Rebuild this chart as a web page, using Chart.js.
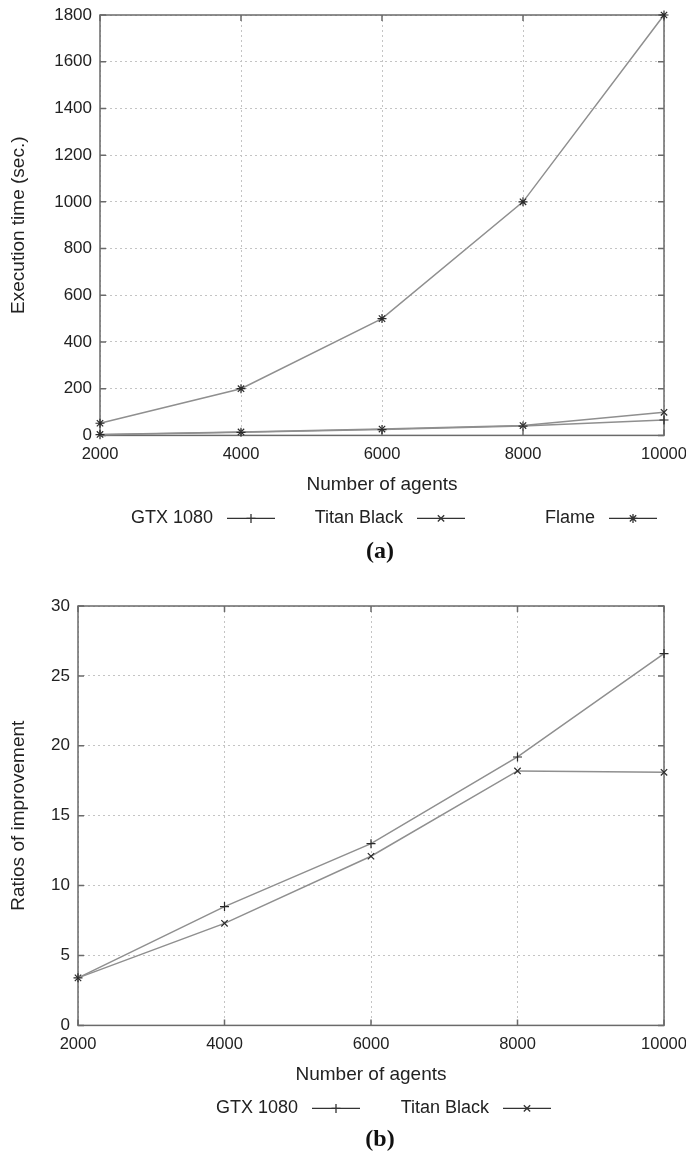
<!DOCTYPE html>
<html>
<head>
<meta charset="utf-8">
<script src="https://cdn.jsdelivr.net/npm/chart.js@4.4.1/dist/chart.umd.min.js"></script>
<style>
  body { margin: 0; background: #fff; width: 686px; height: 1152px; position: relative; overflow: hidden; }
  .box { position: absolute; left: 0; width: 686px; }
  .cap { position: absolute; left: 300px; width: 160px; text-align: center;
         font-family: "Liberation Serif", "DejaVu Serif", serif; font-weight: bold;
         font-size: 24px; line-height: 28px; color: #111; }
</style>
</head>
<body>
<div class="box" style="top:0;height:540px"><canvas id="chartA"></canvas></div>
<div class="cap" style="top:536px">(a)</div>
<div class="box" style="top:580px;height:550px"><canvas id="chartB"></canvas></div>
<div class="cap" style="top:1124px">(b)</div>

<script>
// ================= DADOS =================
const agents = [2000, 4000, 6000, 8000, 10000];

// (a) execution time (sec.)
const timeGtx = [3, 13, 25, 40, 66];
const timeTitan = [4, 15, 27, 42, 99];
const timeFlame = [52, 200, 500, 1000, 1800];

// (b) ratios of improvement
const ratioGtx = [3.4, 8.5, 13.0, 19.2, 26.6];
const ratioTitan = [3.4, 7.3, 12.1, 18.2, 18.1];

const labelGtx = "GTX 1080";
const labelTitan = "Titan Black";
const labelFlame = "Flame";

// ================= ESTILO =================
const FONT = "'Liberation Sans', Arial, sans-serif";
const LINE = "#8f8f8f";
const MARK = "#2a2a2a";
const GRID = "#c4c4c4";
const FRAME = "#6a6a6a";

function points(values) {
  return agents.map((x, i) => ({ x: x, y: values[i] }));
}

function dataset(label, values, style) {
  return {
    label: label,
    data: points(values),
    borderColor: LINE,
    borderWidth: 1.5,
    pointStyle: style,
    pointRadius: 4.5,
    pointBorderColor: MARK,
    pointBackgroundColor: MARK,
    pointBorderWidth: 1.2,
    tension: 0,
    clip: false
  };
}

// caixa do gráfico + marcas de escala para dentro (estilo gnuplot)
const framePlugin = {
  id: "frame",
  beforeDatasetsDraw(chart) {
    const ctx = chart.ctx;
    const a = chart.chartArea;
    const xs = chart.scales.x;
    const ys = chart.scales.y;
    const t = 6;
    ctx.save();
    ctx.strokeStyle = FRAME;
    ctx.lineWidth = 1.5;
    ctx.strokeRect(a.left, a.top, a.right - a.left, a.bottom - a.top);
    ctx.beginPath();
    xs.ticks.forEach(tk => {
      const px = xs.getPixelForValue(tk.value);
      ctx.moveTo(px, a.bottom); ctx.lineTo(px, a.bottom - t);
      ctx.moveTo(px, a.top); ctx.lineTo(px, a.top + t);
    });
    ys.ticks.forEach(tk => {
      const py = ys.getPixelForValue(tk.value);
      ctx.moveTo(a.left, py); ctx.lineTo(a.left + t, py);
      ctx.moveTo(a.right, py); ctx.lineTo(a.right - t, py);
    });
    ctx.stroke();
    ctx.restore();
  }
};

// legenda: texto à esquerda, amostra de linha com marcador à direita
const keyPlugin = {
  id: "key",
  afterDraw(chart, args, opts) {
    const ctx = chart.ctx;
    const y = chart.chartArea.bottom + opts.offset;
    ctx.save();
    ctx.font = "18px " + FONT;
    ctx.fillStyle = "#222";
    ctx.textAlign = "right";
    ctx.textBaseline = "middle";
    chart.data.datasets.forEach((ds, i) => {
      const x0 = opts.starts[i];
      ctx.fillText(ds.label, x0 - 14, y);
      ctx.strokeStyle = "#333";
      ctx.lineWidth = 1.3;
      ctx.beginPath();
      ctx.moveTo(x0, y);
      ctx.lineTo(x0 + 48, y);
      ctx.stroke();
      Chart.helpers.drawPoint(ctx, {
        pointStyle: ds.pointStyle, radius: 4.5, rotation: 0, borderWidth: 1.2
      }, x0 + 24, y);
    });
    ctx.restore();
  }
};

function makeChart(id, sets, yMax, yStep, yTitle, leftWidth, padTop, starts) {
  return new Chart(document.getElementById(id), {
    type: "line",
    data: { datasets: sets },
    plugins: [framePlugin, keyPlugin],
    options: {
      responsive: true,
      maintainAspectRatio: false,
      animation: false,
      layout: { padding: { top: padTop, right: 22, left: 0, bottom: 44 } },
      plugins: {
        legend: { display: false },
        tooltip: { enabled: false },
        key: { offset: 83, starts: starts }
      },
      scales: {
        x: {
          type: "linear",
          min: 2000,
          max: 10000,
          ticks: {
            stepSize: 2000,
            padding: 9,
            color: "#222",
            font: { family: FONT, size: 16.5 },
            callback: v => String(v)
          },
          grid: { color: GRID, drawTicks: false },
          border: { display: false, dash: [2, 3] },
          title: {
            display: true,
            text: "Number of agents",
            color: "#222",
            font: { family: FONT, size: 19 },
            padding: 0
          },
          afterFit(s) { s.paddingLeft = 0; s.paddingRight = 0; }
        },
        y: {
          min: 0,
          max: yMax,
          ticks: {
            stepSize: yStep,
            padding: 8,
            color: "#222",
            font: { family: FONT, size: 17 },
            callback: v => String(v)
          },
          grid: { color: GRID, drawTicks: false },
          border: { display: false, dash: [2, 3] },
          title: {
            display: true,
            text: yTitle,
            color: "#222",
            font: { family: FONT, size: 19 },
            padding: { top: 7, bottom: 0 }
          },
          afterFit(s) { s.width = leftWidth; s.paddingTop = 0; s.paddingBottom = 0; }
        }
      }
    }
  });
}

makeChart("chartA", [
  dataset(labelGtx, timeGtx, "cross"),
  dataset(labelTitan, timeTitan, "crossRot"),
  dataset(labelFlame, timeFlame, "star")
], 1800, 200, "Execution time (sec.)", 100, 15, [227, 417, 609]);

makeChart("chartB", [
  dataset(labelGtx, ratioGtx, "cross"),
  dataset(labelTitan, ratioTitan, "crossRot")
], 30, 5, "Ratios of improvement", 78, 26, [312, 503]);
</script>
</body>
</html>
